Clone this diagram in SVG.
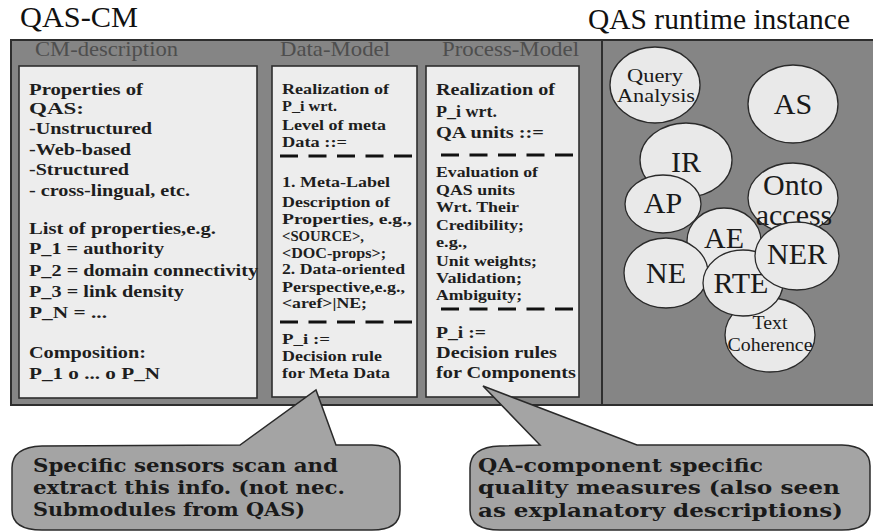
<svg xmlns="http://www.w3.org/2000/svg" width="873" height="531" viewBox="0 0 873 531">
<style>
.title{font-family:'Liberation Serif','Times New Roman',Tinos,'Noto Serif','DejaVu Serif',serif;font-size:29px;fill:#111}
.hdr{font-family:'Liberation Serif','Times New Roman',Tinos,'Noto Serif','DejaVu Serif',serif;font-size:21px;fill:#4e4e4e}
.panel{fill:#ededed;stroke:#2e2e2e;stroke-width:1.6}
.t{font-family:'Liberation Serif','Times New Roman',Tinos,'Noto Serif','DejaVu Serif',serif;font-weight:bold;font-size:16px;fill:#1e1e1e}
.s{font-size:15px}
.dash{stroke:#111;stroke-width:3;stroke-dasharray:18 10.5;fill:none}
.node ellipse{fill:#e9e9e9;stroke:#2a2a2a;stroke-width:1.3}
.big{font-family:'Liberation Serif','Times New Roman',Tinos,'Noto Serif','DejaVu Serif',serif;font-size:30px;fill:#1a1a1a;text-anchor:middle}
.small{font-family:'Liberation Serif','Times New Roman',Tinos,'Noto Serif','DejaVu Serif',serif;font-size:19px;fill:#1a1a1a;text-anchor:middle}
.callout{fill:#a4a4a4;stroke:#2a2a2a;stroke-width:1.5}
.ct{font-family:'DejaVu Serif','Noto Serif','Liberation Serif','Times New Roman',serif;font-weight:bold;font-size:18px;fill:#1a1a1a}
</style>

<g id="titles">
<text class="title" x="20" y="27" textLength="118" lengthAdjust="spacingAndGlyphs">QAS-CM</text>
<text class="title" x="588" y="29" textLength="262" lengthAdjust="spacingAndGlyphs">QAS runtime instance</text>
</g>

<g id="frame">
<rect x="11" y="40" width="866" height="365" fill="#858585" stroke="#2e2e2e" stroke-width="2"/>
<line x1="602" y1="40" x2="602" y2="405" stroke="#2e2e2e" stroke-width="2"/>
</g>

<g id="cm-description">
<text class="hdr" x="35" y="56" textLength="143" lengthAdjust="spacingAndGlyphs">CM-description</text>
<rect class="panel" x="19" y="66" width="238" height="332"/>
<text class="t" x="29" y="95" textLength="114" lengthAdjust="spacingAndGlyphs">Properties of</text>
<text class="t" x="29" y="114" textLength="55" lengthAdjust="spacingAndGlyphs">QAS:</text>
<text class="t" x="29" y="134" textLength="123" lengthAdjust="spacingAndGlyphs">-Unstructured</text>
<text class="t" x="29" y="155" textLength="102" lengthAdjust="spacingAndGlyphs">-Web-based</text>
<text class="t" x="29" y="175" textLength="100" lengthAdjust="spacingAndGlyphs">-Structured</text>
<text class="t" x="29" y="196" textLength="161" lengthAdjust="spacingAndGlyphs">- cross-lingual, etc.</text>
<text class="t" x="29" y="234" textLength="187" lengthAdjust="spacingAndGlyphs">List of properties,e.g.</text>
<text class="t" x="29" y="254" textLength="135" lengthAdjust="spacingAndGlyphs">P_1 = authority</text>
<text class="t" x="29" y="276" textLength="229" lengthAdjust="spacingAndGlyphs">P_2 = domain connectivity</text>
<text class="t" x="29" y="297" textLength="155" lengthAdjust="spacingAndGlyphs">P_3 = link density</text>
<text class="t" x="29" y="318" textLength="78" lengthAdjust="spacingAndGlyphs">P_N = ...</text>
<text class="t" x="29" y="358" textLength="117" lengthAdjust="spacingAndGlyphs">Composition:</text>
<text class="t" x="29" y="379" textLength="131" lengthAdjust="spacingAndGlyphs">P_1 o ... o P_N</text>
</g>

<g id="data-model">
<text class="hdr" x="280" y="56" textLength="110" lengthAdjust="spacingAndGlyphs">Data-Model</text>
<rect class="panel" x="272" y="66" width="145" height="331"/>
<text class="t s" x="282" y="94" textLength="107" lengthAdjust="spacingAndGlyphs">Realization of</text>
<text class="t s" x="282" y="111" textLength="55" lengthAdjust="spacingAndGlyphs">P_i wrt.</text>
<text class="t s" x="282" y="130" textLength="104" lengthAdjust="spacingAndGlyphs">Level of meta</text>
<text class="t s" x="282" y="147" textLength="65" lengthAdjust="spacingAndGlyphs">Data ::=</text>
<line class="dash" x1="280" y1="156" x2="412" y2="156"/>
<text class="t s" x="282" y="187" textLength="108" lengthAdjust="spacingAndGlyphs">1. Meta-Label</text>
<text class="t s" x="282" y="207" textLength="108" lengthAdjust="spacingAndGlyphs">Description of</text>
<text class="t s" x="282" y="224" textLength="130" lengthAdjust="spacingAndGlyphs">Properties, e.g.,</text>
<text class="t s" x="282" y="241" textLength="82" lengthAdjust="spacingAndGlyphs">&lt;SOURCE&gt;,</text>
<text class="t s" x="282" y="258" textLength="104" lengthAdjust="spacingAndGlyphs">&lt;DOC-props&gt;;</text>
<text class="t s" x="282" y="274" textLength="123" lengthAdjust="spacingAndGlyphs">2. Data-oriented</text>
<text class="t s" x="282" y="292" textLength="123" lengthAdjust="spacingAndGlyphs">Perspective,e.g.,</text>
<text class="t s" x="282" y="308" textLength="85" lengthAdjust="spacingAndGlyphs">&lt;aref&gt;|NE;</text>
<line class="dash" x1="280" y1="322" x2="412" y2="322"/>
<text class="t s" x="282" y="344" textLength="48" lengthAdjust="spacingAndGlyphs">P_i :=</text>
<text class="t s" x="282" y="361" textLength="100" lengthAdjust="spacingAndGlyphs">Decision rule</text>
<text class="t s" x="282" y="378" textLength="108" lengthAdjust="spacingAndGlyphs">for Meta Data</text>
</g>

<g id="process-model">
<text class="hdr" x="442" y="56" textLength="137" lengthAdjust="spacingAndGlyphs">Process-Model</text>
<rect class="panel" x="426" y="66" width="153" height="331"/>
<text class="t" x="436" y="95" textLength="119" lengthAdjust="spacingAndGlyphs">Realization of</text>
<text class="t" x="436" y="117" textLength="61" lengthAdjust="spacingAndGlyphs">P_i wrt.</text>
<text class="t" x="436" y="138" textLength="108" lengthAdjust="spacingAndGlyphs">QA units ::=</text>
<line class="dash" x1="441" y1="155" x2="573" y2="155"/>
<text class="t s" x="436" y="177" textLength="102" lengthAdjust="spacingAndGlyphs">Evaluation of</text>
<text class="t s" x="436" y="195" textLength="79" lengthAdjust="spacingAndGlyphs">QAS units</text>
<text class="t s" x="436" y="212" textLength="83" lengthAdjust="spacingAndGlyphs">Wrt. Their</text>
<text class="t s" x="436" y="230" textLength="88" lengthAdjust="spacingAndGlyphs">Credibility;</text>
<text class="t s" x="436" y="247" textLength="31" lengthAdjust="spacingAndGlyphs">e.g.,</text>
<text class="t s" x="436" y="266" textLength="101" lengthAdjust="spacingAndGlyphs">Unit weights;</text>
<text class="t s" x="436" y="283" textLength="86" lengthAdjust="spacingAndGlyphs">Validation;</text>
<text class="t s" x="436" y="300" textLength="86" lengthAdjust="spacingAndGlyphs">Ambiguity;</text>
<line class="dash" x1="441" y1="309" x2="573" y2="309"/>
<text class="t" x="436" y="338" textLength="50" lengthAdjust="spacingAndGlyphs">P_i :=</text>
<text class="t" x="436" y="358" textLength="121" lengthAdjust="spacingAndGlyphs">Decision rules</text>
<text class="t" x="436" y="378" textLength="140" lengthAdjust="spacingAndGlyphs">for Components</text>
</g>

<g id="runtime">
<g id="query-analysis" class="node"><ellipse cx="655" cy="85" rx="45" ry="38"/><text class="small" x="655" y="82" textLength="56" lengthAdjust="spacingAndGlyphs">Query</text><text class="small" x="656" y="102" textLength="78" lengthAdjust="spacingAndGlyphs">Analysis</text></g>
<g id="as" class="node"><ellipse cx="793" cy="104" rx="45" ry="39"/><text class="big" x="793" y="114">AS</text></g>
<g id="ir" class="node"><ellipse cx="686" cy="160" rx="46" ry="37"/><text class="big" x="686" y="172">IR</text></g>
<g id="onto-access" class="node"><ellipse cx="793" cy="198" rx="45" ry="35"/><text class="big" x="793" y="195">Onto</text><text class="big" x="794" y="225">access</text></g>
<g id="ap" class="node"><ellipse cx="663" cy="204" rx="38" ry="29"/><text class="big" x="663" y="213">AP</text></g>
<g id="ae" class="node"><ellipse cx="724" cy="241" rx="37" ry="33"/><text class="big" x="724" y="248">AE</text></g>
<g id="text-coherence" class="node"><ellipse cx="770" cy="335" rx="45" ry="37"/><text class="small" x="770" y="329" textLength="35" lengthAdjust="spacingAndGlyphs">Text</text><text class="small" x="770" y="351" textLength="85" lengthAdjust="spacingAndGlyphs">Coherence</text></g>
<g id="ne" class="node"><ellipse cx="666" cy="273" rx="42" ry="35"/><text class="big" x="666" y="283">NE</text></g>
<g id="rte" class="node"><ellipse cx="743" cy="283" rx="40" ry="33"/><text class="big" x="741" y="293">RTE</text></g>
<g id="ner" class="node"><ellipse cx="797" cy="256" rx="42" ry="34"/><text class="big" x="797" y="264">NER</text></g>
</g>

<g id="connectors">
<g id="callout-sensors">
<path class="callout" d="M42,446 L240,445 L316,390 L336,445 L372,445 Q400,446 400,466 L400,510 Q400,530 372,530 L42,530 Q12,530 12,510 L12,468 Q12,447 42,446 Z"/>
<text class="ct" x="33" y="472" textLength="305" lengthAdjust="spacingAndGlyphs">Specific sensors scan and</text>
<text class="ct" x="33" y="494" textLength="312" lengthAdjust="spacingAndGlyphs">extract this info. (not nec.</text>
<text class="ct" x="33" y="516" textLength="272" lengthAdjust="spacingAndGlyphs">Submodules from QAS)</text>
</g>
<g id="callout-quality">
<path class="callout" d="M500,446 L540,445 L483,386 L637,445 L842,445 Q870,446 870,466 L870,510 Q870,530 842,530 L500,530 Q470,530 470,510 L470,468 Q470,447 500,446 Z"/>
<text class="ct" x="478" y="472" textLength="285" lengthAdjust="spacingAndGlyphs">QA-component specific</text>
<text class="ct" x="478" y="494" textLength="362" lengthAdjust="spacingAndGlyphs">quality measures (also seen</text>
<text class="ct" x="478" y="517" textLength="365" lengthAdjust="spacingAndGlyphs">as explanatory descriptions)</text>
</g>
</g>
</svg>
